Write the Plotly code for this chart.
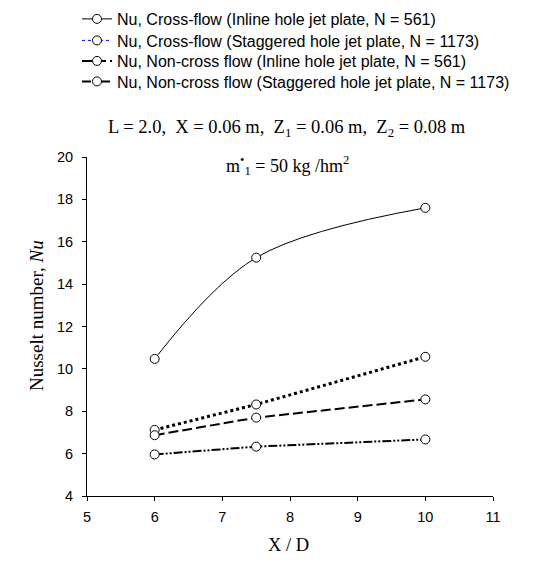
import plotly.graph_objects as go

x_vals = [6, 7.5, 10]
nu_cross_inline = [10.47, 15.25, 17.6]
nu_cross_staggered = [7.12, 8.32, 10.57]
nu_noncross_inline = [6.87, 7.70, 8.56]
nu_noncross_staggered = [5.96, 6.33, 6.67]

names = [
    "Nu, Cross-flow (Inline hole jet plate, N = 561)",
    "Nu, Cross-flow (Staggered hole jet plate, N = 1173)",
    "Nu, Non-cross flow (Inline hole jet plate, N = 561)",
    "Nu, Non-cross flow (Staggered hole jet plate, N = 1173)",
]

marker = dict(symbol="circle", size=9, color="white", line=dict(width=1, color="black"))

series = [nu_cross_inline, nu_cross_staggered, nu_noncross_inline, nu_noncross_staggered]
lines = [
    dict(color="black", width=1, shape="spline", smoothing=1.0),
    dict(color="black", width=3, dash="dot"),
    dict(color="black", width=2, dash="10px,4px"),
    dict(color="black", width=2, dash="9px,2px,2px,2px,2px,2px"),
]
legend_ids = ["legend", "legend2", "legend3", "legend4"]

fig = go.Figure()
for i, (yv, nm, ln, lg) in enumerate(zip(series, names, lines, legend_ids)):
    if i == 1:
        # plotted line is black; its legend sample is a thin blue dotted line
        fig.add_trace(go.Scatter(x=x_vals, y=yv, name=nm, mode="lines+markers",
                                 line=ln, marker=marker, showlegend=False))
        fig.add_trace(go.Scatter(x=[None], y=[None], name=nm, mode="lines+markers",
                                 line=dict(color="blue", width=1, dash="dot"),
                                 marker=marker, legend=lg))
    else:
        fig.add_trace(go.Scatter(x=x_vals, y=yv, name=nm, mode="lines+markers",
                                 line=ln, marker=marker, legend=lg))

serif = "Liberation Serif, Times New Roman, serif"
sans = "Liberation Sans, Arial, sans-serif"

T, B, L, R = 157, 496, 87, 493
H, W = B - T, R - L

def py(pix):
    return 1 - (pix - T) / H

def px(pix):
    return (pix - L) / W

legend_rows = [19, 40.5, 61, 81.5]
leg_common = dict(x=px(77), xanchor="left", yanchor="middle",
                  font=dict(family=sans, size=16, color="black"),
                  bgcolor="rgba(0,0,0,0)", tracegroupgap=0)

layout_legends = {}
for lg, row in zip(legend_ids, legend_rows):
    layout_legends[lg] = dict(leg_common, y=py(row))

fig.update_layout(
    width=546, height=561,
    margin=dict(l=L, r=546 - R, t=T, b=561 - B, autoexpand=False),
    paper_bgcolor="white", plot_bgcolor="white",
    showlegend=True,
    **layout_legends,
    xaxis=dict(range=[5, 11], dtick=1, tick0=5, showgrid=False, zeroline=False,
               showline=True, linecolor="black", linewidth=1,
               ticks="outside", ticklen=4, tickcolor="black", ticklabelstandoff=4,
               tickfont=dict(family=sans, size=14.5, color="black")),
    yaxis=dict(range=[4, 20], dtick=2, showgrid=False, zeroline=False,
               showline=True, linecolor="black", linewidth=1,
               ticks="outside", ticklen=4, tickcolor="black", ticklabelstandoff=6,
               tickfont=dict(family=sans, size=14.5, color="black")),
    annotations=[
        dict(text="Nusselt number, <i>Nu</i>", textangle=-90,
             xref="paper", yref="paper", x=px(36), y=py(315),
             xanchor="center", yanchor="middle", showarrow=False,
             font=dict(family=serif, size=19, color="black")),
        dict(text="X / D",
             xref="paper", yref="paper", x=px(288), y=py(545),
             xanchor="center", yanchor="middle", showarrow=False,
             font=dict(family=serif, size=18.5, color="black")),
        dict(text="L = 2.0,  X = 0.06 m,  Z<sub>1</sub> = 0.06 m,  Z<sub>2</sub> = 0.08 m",
             xref="paper", yref="paper", x=px(287), y=py(129),
             xanchor="center", yanchor="middle",
             showarrow=False, font=dict(family=serif, size=18.5, color="black")),
        dict(text="m<sup>•</sup><sub>1</sub> = 50 kg /hm<sup>2</sup>",
             xref="paper", yref="paper", x=px(287), y=py(165),
             xanchor="center", yanchor="middle",
             showarrow=False, font=dict(family=serif, size=18, color="black")),
    ],
)

fig.write_html("out.html")
